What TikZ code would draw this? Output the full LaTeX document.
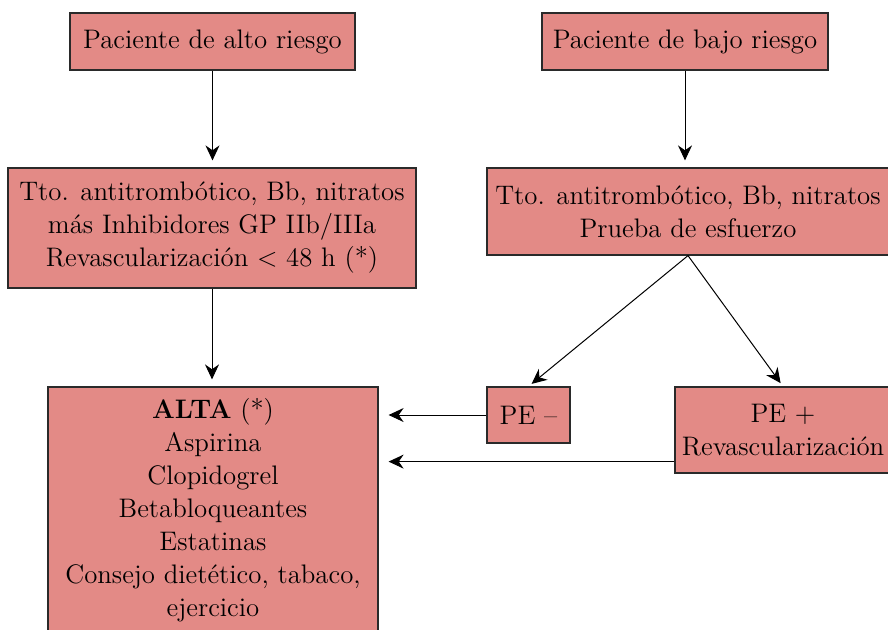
\documentclass[tikz,border=0pt]{standalone}
\usepackage{tikz}
\usetikzlibrary{arrows.meta}
\definecolor{salmon}{HTML}{E38A86}
\definecolor{edge}{HTML}{2A2A2A}
\tikzset{
  flowBox/.style={draw=edge, fill=salmon, line width=0.6pt, align=center, inner sep=0pt,
    font=\fontsize{13.4}{16.5}\selectfont},
  flowArrow/.style={draw=black, line width=0.5pt, -{Stealth[length=7.5pt, width=7pt]}}
}

\begin{document}
\begin{tikzpicture}[x=0.5pt, y=-0.5pt]
  \useasboundingbox (0,0) rectangle (888,629);
  \clip (0,0) rectangle (888,629);

  % upper row
  \node[flowBox, minimum width=142.5pt, minimum height=28.5pt] (altoR) at (212.5,41.5) {Paciente de alto riesgo};
  \node[flowBox, minimum width=143pt, minimum height=28.5pt] (bajoR) at (685,41.5) {Paciente de bajo riesgo};

  % treatment
  \node[flowBox, minimum width=204pt, minimum height=60pt] (tratA) at (212,228)
    {Tto. antitrombótico, Bb, nitratos\\ más Inhibidores GP IIb/IIIa\\ Revascularización < 48 h (*)};
  \node[flowBox, minimum width=201pt, minimum height=43.5pt] (tratB) at (688,211.5)
    {Tto. antitrombótico, Bb, nitratos\\ Prueba de esfuerzo};

  % outcome
  \node[flowBox, minimum width=165pt, minimum height=123pt] (alta) at (213,510)
    {\textbf{ALTA} (*)\\ Aspirina\\ Clopidogrel\\ Betabloqueantes\\ Estatinas\\ Consejo dietético, tabaco,\\ ejercicio};
  \node[flowBox, minimum width=41.5pt, minimum height=28pt] (peNeg) at (528.5,415) {PE --};
  \node[flowBox, minimum width=108pt, minimum height=43pt] (pePos) at (783,430) {PE +\\ Revascularización};
  \coordinate (plusOut) at ([yshift=6pt]pePos.south west);

  \draw[flowArrow, shorten >=3.5pt] (altoR.south) -- (altoR.south |- tratA.north);
  \draw[flowArrow, shorten >=3.5pt] (bajoR.south) -- (bajoR.south |- tratB.north);
  \draw[flowArrow, shorten >=3.5pt] (tratA.south) -- (tratA.south |- alta.north);
  \draw[flowArrow, shorten >=2pt] (tratB.south) -- (peNeg.north);
  \draw[flowArrow, shorten >=2pt] (tratB.south) -- (pePos.north);
  \draw[flowArrow, shorten >=5pt] (peNeg.west) -- (alta.east |- peNeg.west);
  \draw[flowArrow, shorten >=5pt] (plusOut) -- (alta.east |- plusOut);
\end{tikzpicture}
\end{document}
